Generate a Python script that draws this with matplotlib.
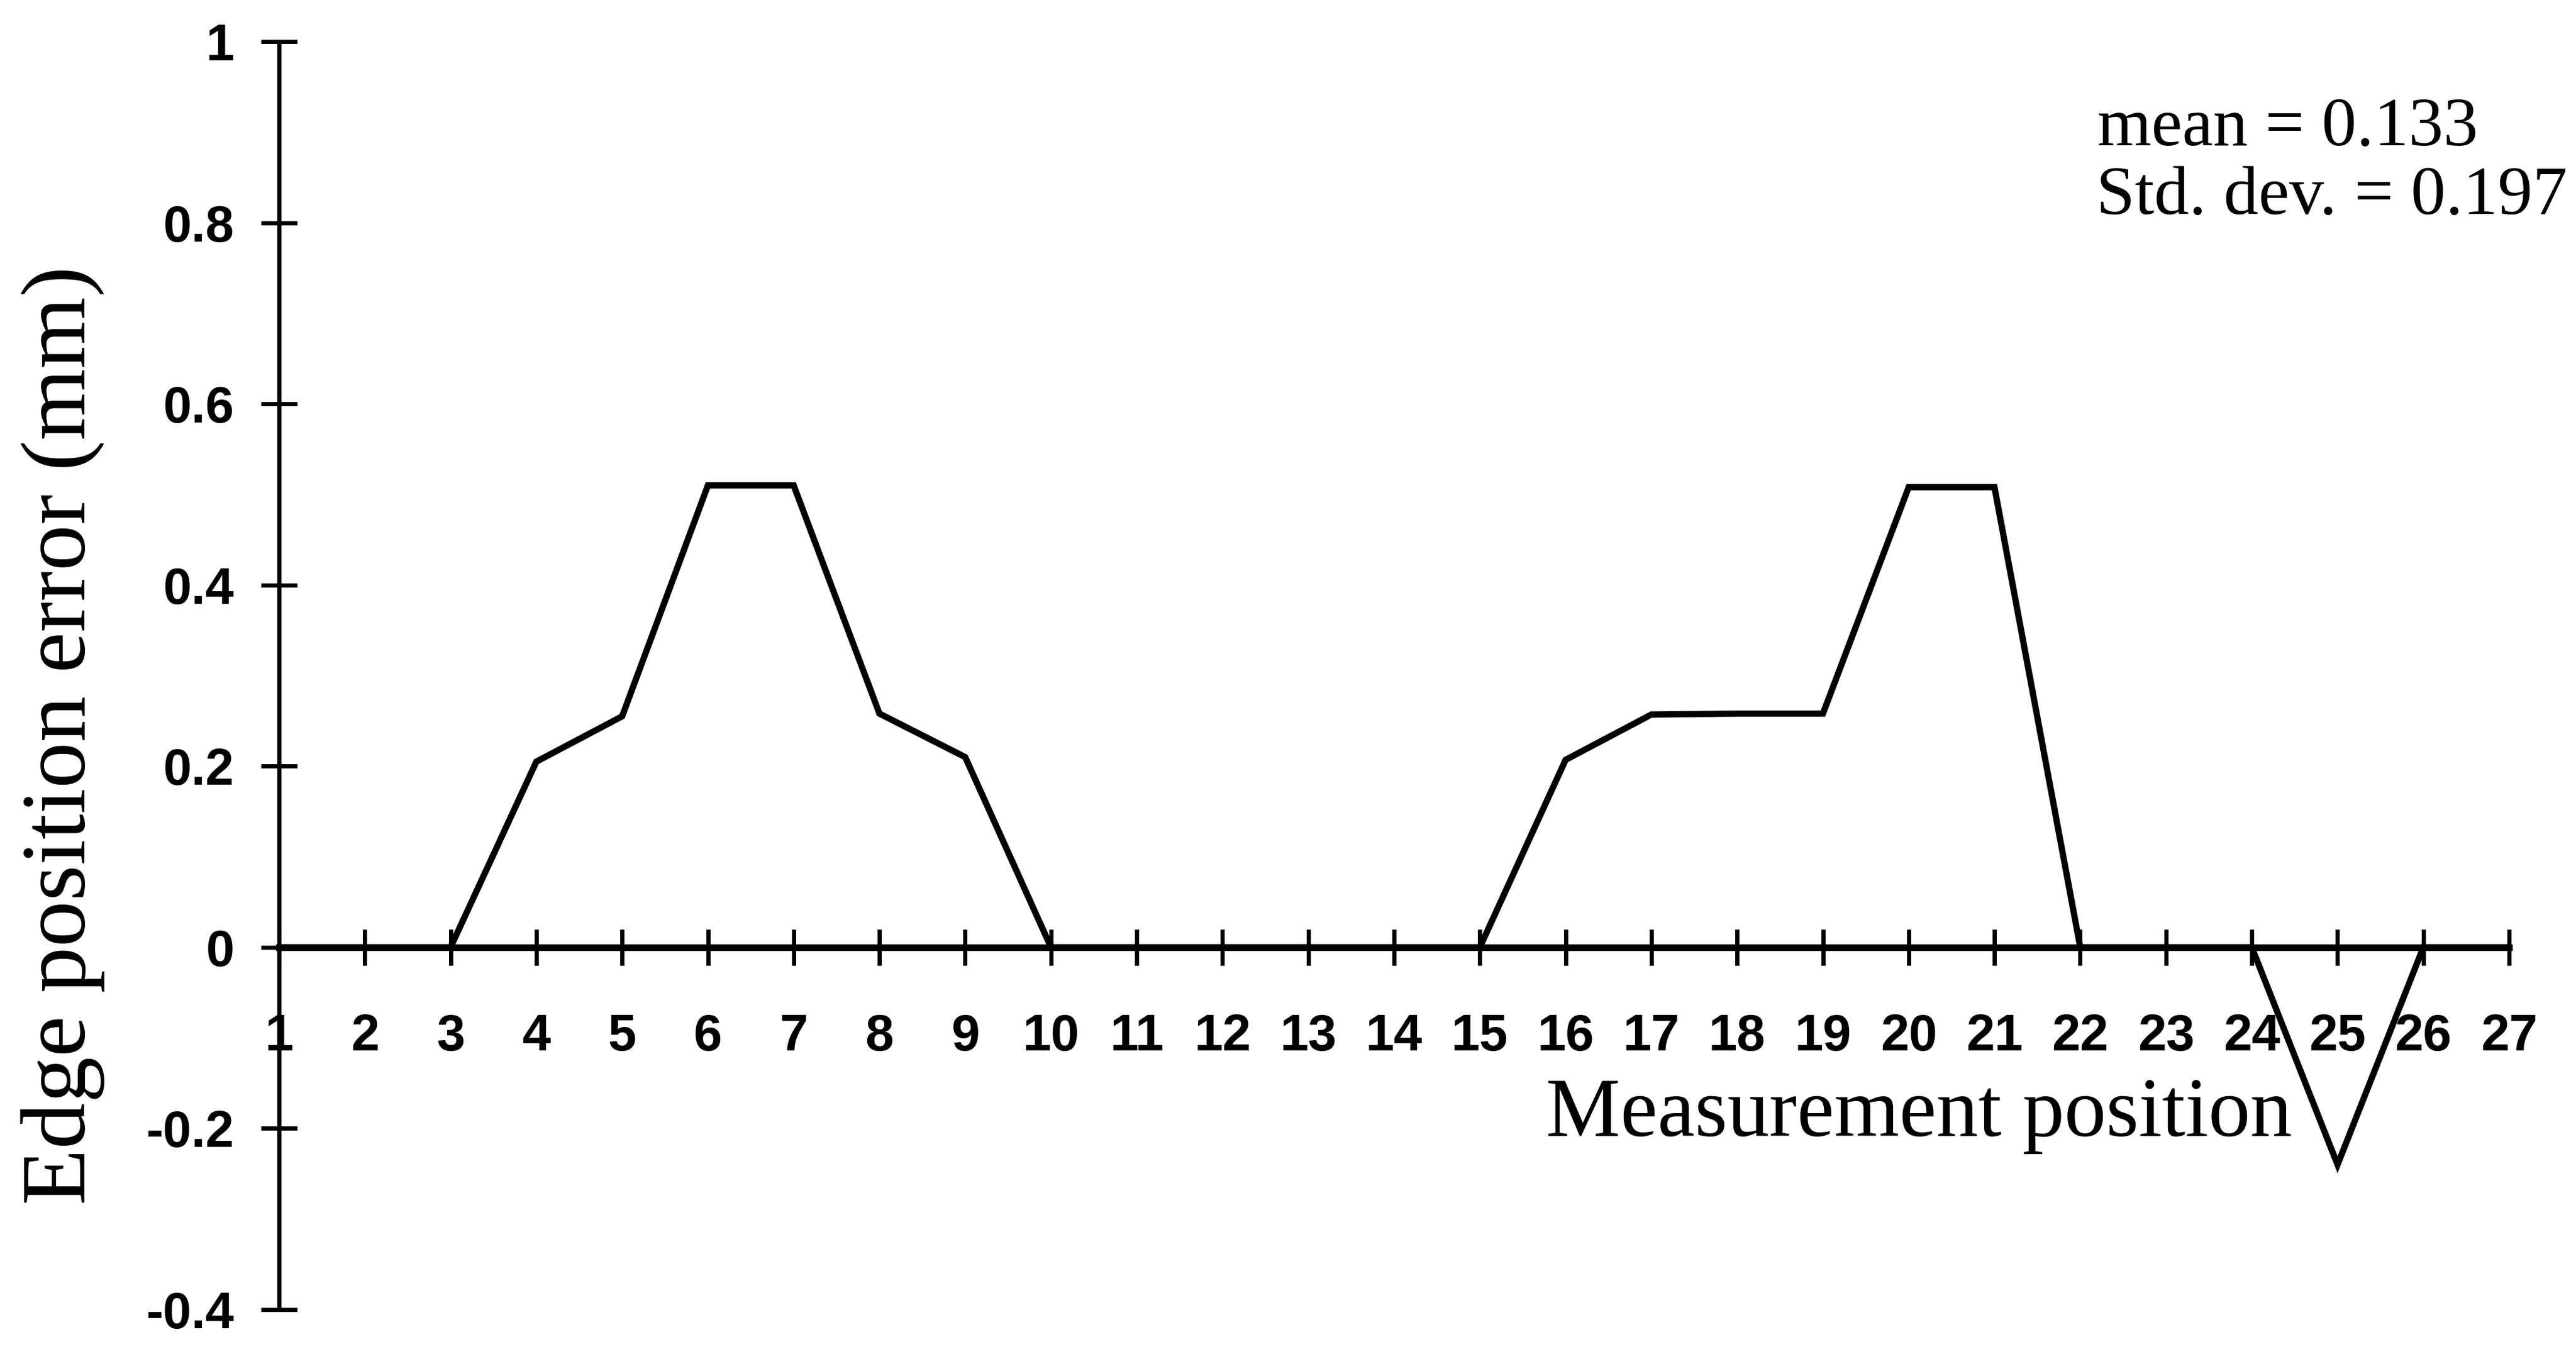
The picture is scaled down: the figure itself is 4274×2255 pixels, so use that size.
import matplotlib
matplotlib.use("Agg")
import matplotlib.pyplot as plt

# Edge position error at each measurement position
positions = list(range(1, 28))
errors = [0, 0, 0, 0.205, 0.255, 0.51, 0.51, 0.258, 0.21, 0,
          0, 0, 0, 0, 0, 0.207, 0.257, 0.258, 0.258, 0.508,
          0.508, 0, 0, 0, -0.24, 0, 0]

x_ticks = positions
x_tick_labels = [str(p) for p in positions]
y_ticks = [-0.4, -0.2, 0, 0.2, 0.4, 0.6, 0.8, 1.0]
y_tick_labels = ["-0.4", "-0.2", "0", "0.2", "0.4", "0.6", "0.8", "1"]

x_label = "Measurement position"
y_label = "Edge position error (mm)"
stats_lines = ["mean = 0.133", "Std. dev. = 0.197"]

W, H = 4274, 2255
DPI = 100
fig = plt.figure(figsize=(W / DPI, H / DPI), dpi=DPI)
fig.patch.set_facecolor("white")

left_px, right_px = 463, 4163
top_px, bottom_px = 69, 2173
ax = fig.add_axes([left_px / W, 1 - bottom_px / H,
                   (right_px - left_px) / W, (bottom_px - top_px) / H])
ax.set_facecolor("white")

ax.plot(positions, errors, color="black", lw=7.5, clip_on=False,
        solid_joinstyle="miter", solid_capstyle="butt", zorder=3)

ax.set_xlim(1, 27)
ax.set_ylim(-0.4, 1.0)

for side in ("top", "right"):
    ax.spines[side].set_visible(False)
ax.spines["left"].set_linewidth(5)
ax.spines["bottom"].set_position(("data", 0))
ax.spines["bottom"].set_linewidth(8)

tick_font = {"family": ["Liberation Sans", "DejaVu Sans"],
             "weight": "bold", "size": 61}

ax.set_xticks(x_ticks)
ax.set_xticklabels(x_tick_labels, fontdict=tick_font)
ax.set_yticks(y_ticks)
ax.set_yticklabels(y_tick_labels, fontdict=tick_font)

ax.tick_params(axis="both", direction="inout", length=43, width=5, color="black")
ax.tick_params(axis="x", pad=57)
ax.tick_params(axis="y", pad=32)

serif = ["Liberation Serif", "DejaVu Serif"]

fig.text(0.0245, 0.459, y_label, rotation=90, ha="center", va="center",
         family=serif, fontsize=110)
fig.text(3803 / W, 1 - 1885 / H, x_label, ha="right", va="baseline",
         family=serif, fontsize=100)

fig.text(3480 / W, 1 - 241 / H, stats_lines[0], ha="left", va="baseline",
         family=serif, fontsize=83)
fig.text(3478 / W, 1 - 355 / H, stats_lines[1], ha="left", va="baseline",
         family=serif, fontsize=83)

fig.savefig("out.png", dpi=DPI, facecolor="white")
